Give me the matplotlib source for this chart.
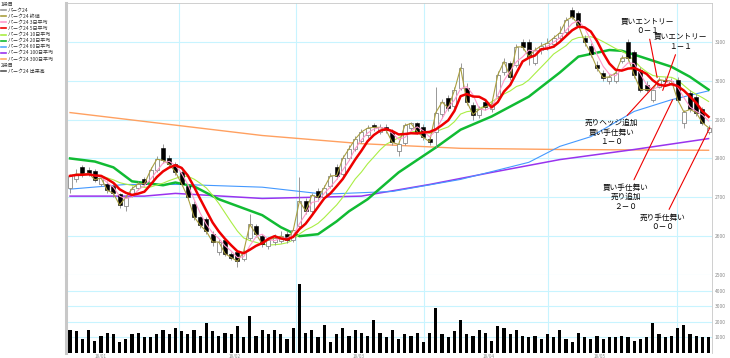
import matplotlib.pyplot as plt
import numpy as np
import pandas as pd

plt.rcParams['font.family'] = ['Noto Sans CJK JP', 'DejaVu Sans']

# daily prices
opens = [2725, 2748, 2777, 2770, 2767, 2735, 2735, 2730, 2708, 2678,
         2705, 2725, 2748, 2740, 2770, 2828, 2800, 2785, 2765, 2730,
         2682, 2648, 2645, 2605, 2560, 2590, 2555, 2560, 2540, 2595,
         2625, 2600, 2575, 2585, 2588, 2605, 2590, 2625, 2690, 2665,
         2715, 2700, 2730, 2777, 2760, 2800, 2825, 2845, 2860, 2885,
         2868, 2882, 2869, 2818, 2840, 2878, 2890, 2882, 2850, 2867,
         2915, 2956, 2935, 2980, 2982, 2938, 2913, 2946, 2928, 2960,
         3023, 3046, 3040, 3100, 3100, 3046, 3080, 3085, 3095, 3110,
         3125, 3182, 3174, 3110, 3090, 3041, 3020, 3000, 3000, 3051,
         3100, 3074, 3028, 2990, 2951, 2985, 3003, 2995, 3003, 2892,
         2969, 2959, 2926, 2867]
highs = [2760, 2772, 2782, 2778, 2772, 2758, 2742, 2735, 2712, 2706,
         2728, 2742, 2752, 2778, 2805, 2836, 2808, 2790, 2770, 2735,
         2690, 2652, 2650, 2612, 2592, 2595, 2560, 2565, 2568, 2656,
         2632, 2606, 2598, 2605, 2612, 2612, 2622, 2751, 2698, 2712,
         2725, 2732, 2762, 2785, 2810, 2835, 2858, 2875, 2885, 2890,
         2888, 2888, 2875, 2840, 2892, 2895, 2895, 2888, 2860, 2985,
         2952, 2962, 2985, 3046, 2995, 2945, 2935, 2952, 2945, 3025,
         3058, 3052, 3095, 3108, 3108, 3088, 3100, 3110, 3118, 3140,
         3165, 3190, 3180, 3118, 3098, 3050, 3028, 3018, 3028, 3066,
         3108, 3080, 3035, 2998, 2985, 3010, 3010, 3008, 3010, 2925,
         2975, 2965, 2932, 2885]
lows = [2712, 2740, 2752, 2755, 2740, 2728, 2712, 2700, 2672, 2665,
        2700, 2720, 2728, 2735, 2765, 2788, 2778, 2758, 2728, 2692,
        2642, 2620, 2605, 2575, 2552, 2548, 2538, 2520, 2535, 2590,
        2598, 2572, 2568, 2578, 2582, 2582, 2585, 2620, 2658, 2660,
        2690, 2695, 2725, 2748, 2755, 2795, 2818, 2840, 2852, 2870,
        2862, 2865, 2835, 2805, 2835, 2872, 2862, 2848, 2835, 2828,
        2905, 2922, 2930, 2975, 2938, 2900, 2905, 2925, 2920, 2955,
        3015, 3002, 3035, 3080, 3040, 3040, 3070, 3078, 3088, 3105,
        3120, 3158, 3138, 3090, 3060, 3025, 3000, 2992, 2995, 3045,
        3052, 3008, 2970, 2970, 2945, 2980, 2992, 2990, 2945, 2879,
        2920, 2910, 2885, 2862]
closes = [2755, 2760, 2759, 2762, 2745, 2750, 2718, 2710, 2680, 2700,
          2722, 2735, 2735, 2770, 2798, 2795, 2785, 2765, 2735, 2700,
          2650, 2628, 2612, 2585, 2585, 2555, 2545, 2535, 2560, 2630,
          2605, 2580, 2590, 2595, 2600, 2590, 2615, 2690, 2665, 2705,
          2700, 2725, 2755, 2756, 2800, 2825, 2850, 2868, 2878, 2880,
          2880, 2872, 2841, 2836, 2885, 2890, 2869, 2854, 2843, 2918,
          2945, 2930, 2975, 3033, 2946, 2913, 2926, 2933, 2938, 3015,
          3049, 3010, 3087, 3087, 3062, 3079, 3090, 3097, 3110, 3123,
          3155, 3164, 3144, 3100, 3070, 3033, 3008, 3010, 3020, 3059,
          3059, 3015, 2977, 2977, 2977, 3003, 3000, 3000, 2951, 2920,
          2926, 2918, 2892, 2879]
volumes = [1500, 1400, 900, 1500, 800, 1100, 1300, 1200, 700, 900,
           1200, 1300, 1000, 1000, 1200, 1500, 1200, 1600, 1400, 1200,
           1500, 1100, 1900, 1400, 1100, 1300, 1200, 1700, 1000, 2400,
           1100, 1500, 1200, 1500, 1200, 900, 1600, 4400, 1300, 1500,
           1000, 1800, 700, 1200, 1600, 1100, 1500, 1300, 1100, 2100,
           1300, 1000, 1500, 900, 1200, 1100, 1300, 700, 1300, 2900,
           1200, 1000, 1400, 2100, 1200, 1100, 1500, 1300, 800, 1700,
           1600, 1200, 1500, 1100, 1000, 1100, 900, 1200, 1000, 1500,
           900, 700, 1300, 1000, 900, 1100, 900, 1000, 1000, 1100,
           1000, 800, 900, 1000, 1900, 1200, 1000, 1100, 1600, 1800,
           1200, 1100, 1000, 1000]

# longer moving averages, read at a few points
ma20_idx = [0, 4, 7, 10, 15, 17, 20, 24, 31, 34, 37, 40, 43, 45, 48, 53,
            59, 63, 68, 74, 79, 82, 87, 89, 92, 97, 100, 103]
ma20 = [2800, 2792, 2777, 2741, 2731, 2738, 2728, 2695, 2654, 2623, 2600,
        2605, 2638, 2664, 2695, 2764, 2828, 2874, 2908, 2959, 3021, 3062,
        3079, 3077, 3062, 3036, 3010, 2977]
ma60_idx = [0, 9, 18, 31, 41, 52, 63, 74, 79, 84, 91, 97, 103]
ma60 = [2721, 2733, 2733, 2726, 2708, 2715, 2746, 2790, 2831, 2856, 2921,
        2951, 2974]
ma100_idx = [0, 12, 17, 31, 47, 58, 68, 79, 91, 103]
ma100 = [2703, 2703, 2710, 2697, 2703, 2733, 2764, 2797, 2823, 2851]
ma300_idx = [0, 31, 47, 63, 79, 103]
ma300 = [2918, 2859, 2838, 2826, 2823, 2821]

price_ticks = [2500, 2600, 2700, 2800, 2900, 3000, 3100]
vol_ticks = [1000, 2000, 3000, 4000]
month_pos = [5, 26.5, 46.5, 67.5, 85.5]
month_labels = ['18/01', '18/02', '18/03', '18/04', '18/05']
vgrid_pos = [17.6, 36.5, 57.1, 77.1, 97.9]

legend_labels = ['1段目', 'パーク24', 'パーク24 終値', 'パーク24 3日平均', 'パーク24 5日平均',
                 'パーク24 10日平均', 'パーク24 20日平均', 'パーク24 60日平均',
                 'パーク24 100日平均', 'パーク24 300日平均', '2段目', 'パーク24 出来高']
legend_colors = [None, '#999999', '#aaa040', '#ff99cc', '#ee0000', '#aaee44', '#11bb33',
                 '#55aaff', '#9933ee', '#ffaa66', None, '#555555']

notes = [('買いエントリー\n０－１', 93.1, 3140, 94.7, 3008),
         ('買いエントリー\n１－１', 98.4, 3100, 95.6, 2975),
         ('売りヘッジ追加\n買い手仕舞い\n１－０', 87.3, 2866, 95.0, 3000),
         ('買い手仕舞い\n売り追加\n２－０', 89.6, 2700, 97.2, 2951),
         ('売り手仕舞い\n０－０', 95.6, 2636, 103.2, 2879)]

c = pd.Series(closes)
ma3 = c.rolling(3, min_periods=1).mean()
ma5 = c.rolling(5, min_periods=1).mean()
ma10 = c.rolling(10, min_periods=1).mean()
idx = np.arange(len(closes))
o = np.array(opens)
cl = np.array(closes)
up = cl >= o

fig = plt.figure(figsize=(7.3, 3.58), dpi=100)
ax = fig.add_axes([66 / 730, 1 - 275 / 358, 646 / 730, 272 / 358])
axv = fig.add_axes([66 / 730, 1 - 353 / 358, 646 / 730, 78 / 358], sharex=ax)

grid_c = '#c8f4ff'
for a in (ax, axv):
    for g in vgrid_pos:
        a.axvline(g, color=grid_c, lw=0.8, zorder=0)
for p in price_ticks:
    ax.axhline(p, color=grid_c, lw=0.8, zorder=0)
for v in vol_ticks:
    axv.axhline(v, color=grid_c, lw=0.8, zorder=0)

# long averages behind the candles
ax.plot(ma300_idx, ma300, color='#ffa060', lw=1.0, zorder=1)
ax.plot(ma100_idx, ma100, color='#9933ee', lw=1.1, zorder=1)
ax.plot(ma60_idx, ma60, color='#4499ff', lw=0.8, zorder=1)
ax.plot(ma20_idx, ma20, color='#11bb33', lw=1.8, zorder=1)
ax.plot(idx, ma10, color='#aaee44', lw=0.8, zorder=1)

# candles
ax.vlines(idx, lows, highs, color='#888888', lw=0.6, zorder=2)
body = np.maximum(np.abs(cl - o), 1.5)
ax.bar(idx[up], body[up], bottom=np.minimum(o, cl)[up], width=0.65,
       color='white', edgecolor='#888888', lw=0.6, zorder=3)
ax.bar(idx[~up], body[~up], bottom=np.minimum(o, cl)[~up], width=0.65,
       color='black', edgecolor='black', lw=0.4, zorder=3)

ax.plot(idx, closes, color='#aaa040', lw=0.8, zorder=4)
ax.plot(idx, ma3, color='#ff99cc', lw=0.8, zorder=4)
ax.plot(idx, ma5, color='#ee0000', lw=1.8, zorder=5)

for text, tx, ty, px, py in notes:
    ax.annotate(text, xy=(px, py), xytext=(tx, ty), fontsize=5.5, ha='center', va='center',
                linespacing=1.25, annotation_clip=False,
                arrowprops=dict(arrowstyle='-', color='#ee0000', lw=0.8, shrinkA=1, shrinkB=0),
                zorder=6)

axv.bar(idx, volumes, width=0.5, color='black', zorder=2)

ax.set_xlim(-0.65, 103.55)
ax.set_ylim(2500, 3200)
axv.set_ylim(0, 5000)

for a in (ax, axv):
    a.yaxis.tick_right()
    a.tick_params(axis='y', length=0, labelsize=3.5, colors='#888888', pad=2)
    for s in a.spines.values():
        s.set_color('#c8c8c8')
        s.set_linewidth(0.6)
    a.spines['left'].set_linewidth(2.2)
ax.set_yticks(price_ticks)
axv.set_yticks(vol_ticks)
ax.spines['bottom'].set_visible(False)
axv.spines['top'].set_visible(False)
axv.spines['bottom'].set_visible(False)
ax.tick_params(axis='x', bottom=False, labelbottom=False)
axv.set_xticks(month_pos)
axv.set_xticklabels(month_labels)
axv.tick_params(axis='x', length=0, labelsize=3.3, colors='#888888', pad=0.5)

# legend panel on the left
y0 = 4
for i, (lab, col) in enumerate(zip(legend_labels, legend_colors)):
    yy = 1 - (y0 + i * 6.1) / 358
    if col is None:
        fig.text(1 / 730, yy, lab, fontsize=3.6, va='center', color='#333333')
    else:
        fig.add_artist(plt.Line2D([1 / 730, 6 / 730], [yy, yy], color=col,
                                  lw=1.2, transform=fig.transFigure))
        fig.text(8 / 730, yy, lab, fontsize=3.6, va='center', color='#333333')

fig.savefig('out.png', dpi=100)
